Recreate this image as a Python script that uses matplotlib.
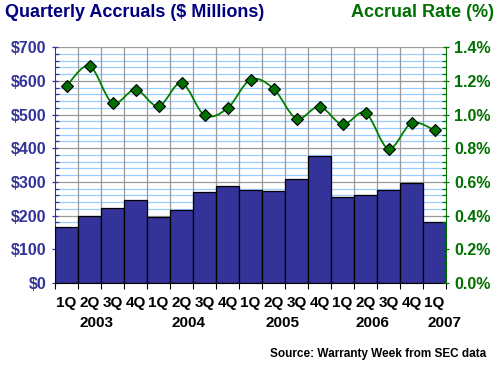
import numpy as np
import matplotlib
matplotlib.use("Agg")
import matplotlib.pyplot as plt
from matplotlib.path import Path
from matplotlib.patches import PathPatch
from matplotlib.ticker import MultipleLocator, FuncFormatter

plt.rcParams['font.family'] = ['Liberation Sans', 'DejaVu Sans']
plt.rcParams['font.weight'] = 'bold'

# data
quarters = ['1Q', '2Q', '3Q', '4Q'] * 4 + ['1Q']
years = ['2003', '2004', '2005', '2006', '2007']
year_pos = [1.3, 5.3, 9.4, 13.3, 16.45]
accruals = [165, 199, 222, 245, 195, 216, 269, 287, 275,
            272, 308, 376, 254, 260, 275, 296, 180]
rate = [1.168, 1.288, 1.069, 1.148, 1.049, 1.187, 0.996, 1.037, 1.207,
        1.154, 0.976, 1.047, 0.941, 1.010, 0.797, 0.949, 0.907]

navy = '#333399'
title_navy = '#000080'
green = '#007000'

fig = plt.figure(figsize=(5, 3.68), dpi=100)
ax = fig.add_axes([0.11, 0.231, 0.782, 0.641])
x = np.arange(len(accruals))

ax.bar(x, accruals, width=1.0, color=navy, edgecolor='black', linewidth=0.9, zorder=3)
ax.set_xlim(-0.5, len(accruals) - 0.5)
ax.set_ylim(0, 700)

# grid: light blue minor, gray major + vertical at boundaries
for v in range(20, 700, 20):
    if v % 100:
        ax.axhline(v, color='#99ccff', lw=0.9, zorder=1)
for v in range(100, 701, 100):
    ax.axhline(v, color='#999999', lw=0.9, zorder=1)
for b in np.arange(0.5, len(accruals) - 0.5, 1):
    ax.axvline(b, color='#999999', lw=0.9, zorder=1)

ax.yaxis.set_major_locator(MultipleLocator(100))
ax.yaxis.set_minor_locator(MultipleLocator(20))
ax.yaxis.set_major_formatter(FuncFormatter(lambda v, p: f'${int(v)}'))
ax.tick_params(axis='y', which='major', colors=navy, labelsize=11.5, length=5,
               direction='inout', width=0.9)
ax.tick_params(axis='y', which='minor', colors=navy, length=3, direction='in', width=0.9)
ax.set_xticks(np.arange(-0.5, len(accruals), 1))
ax.set_xticklabels([])
ax.tick_params(axis='x', which='major', length=4, color='black', direction='out')
for i, q in enumerate(quarters):
    ax.text(i, -0.055, q, transform=ax.get_xaxis_transform(), ha='center', va='top',
            fontsize=11, fontweight='bold', color='black')
for yp, yr in zip(year_pos, years):
    ax.text(yp, -0.14, yr, transform=ax.get_xaxis_transform(), ha='center', va='top',
            fontsize=11, fontweight='bold', color='black')

for s in ['top', 'right']:
    ax.spines[s].set_visible(False)
ax.spines['left'].set_color(navy)
ax.spines['bottom'].set_color('black')

ax2 = ax.twinx()
ax2.set_ylim(0, 1.4)
ax2.yaxis.set_major_locator(MultipleLocator(0.2))
ax2.yaxis.set_minor_locator(MultipleLocator(0.04))
ax2.yaxis.set_major_formatter(FuncFormatter(lambda v, p: f'{v:.1f}%'))
ax2.tick_params(axis='y', which='major', colors=green, labelsize=11.5, length=5,
                direction='inout', width=0.9)
ax2.tick_params(axis='y', which='minor', colors=green, length=3, direction='in', width=0.9)
for s in ['top', 'left', 'bottom']:
    ax2.spines[s].set_visible(False)
ax2.spines['right'].set_color(green)

# smoothed line (Catmull-Rom bezier through the points)
pts = np.column_stack([x, rate])
verts = [tuple(pts[0])]
codes = [Path.MOVETO]
for i in range(len(pts) - 1):
    p0 = pts[i - 1] if i > 0 else pts[i]
    p1, p2 = pts[i], pts[i + 1]
    p3 = pts[i + 2] if i + 2 < len(pts) else pts[i + 1]
    c1 = p1 + (p2 - p0) / 6
    c2 = p2 - (p3 - p1) / 6
    verts += [tuple(c1), tuple(c2), tuple(p2)]
    codes += [Path.CURVE4] * 3
ax2.add_patch(PathPatch(Path(verts, codes), facecolor='none', edgecolor='#008000',
                        lw=1.3, zorder=4))
ax2.plot(x, rate, linestyle='none', marker='D', markersize=6.5,
         markerfacecolor='#007000', markeredgecolor='black', markeredgewidth=0.8, zorder=5)

fig.text(0.01, 0.965, 'Quarterly Accruals ($ Millions)', color=title_navy,
         fontsize=13, fontweight='bold', ha='left', va='center')
fig.text(0.988, 0.965, 'Accrual Rate (%)', color=green,
         fontsize=13, fontweight='bold', ha='right', va='center')
fig.text(0.972, 0.038, 'Source: Warranty Week from SEC data', color='black',
         fontsize=8.5, fontweight='bold', ha='right', va='center')

fig.savefig('out.png', dpi=100)
